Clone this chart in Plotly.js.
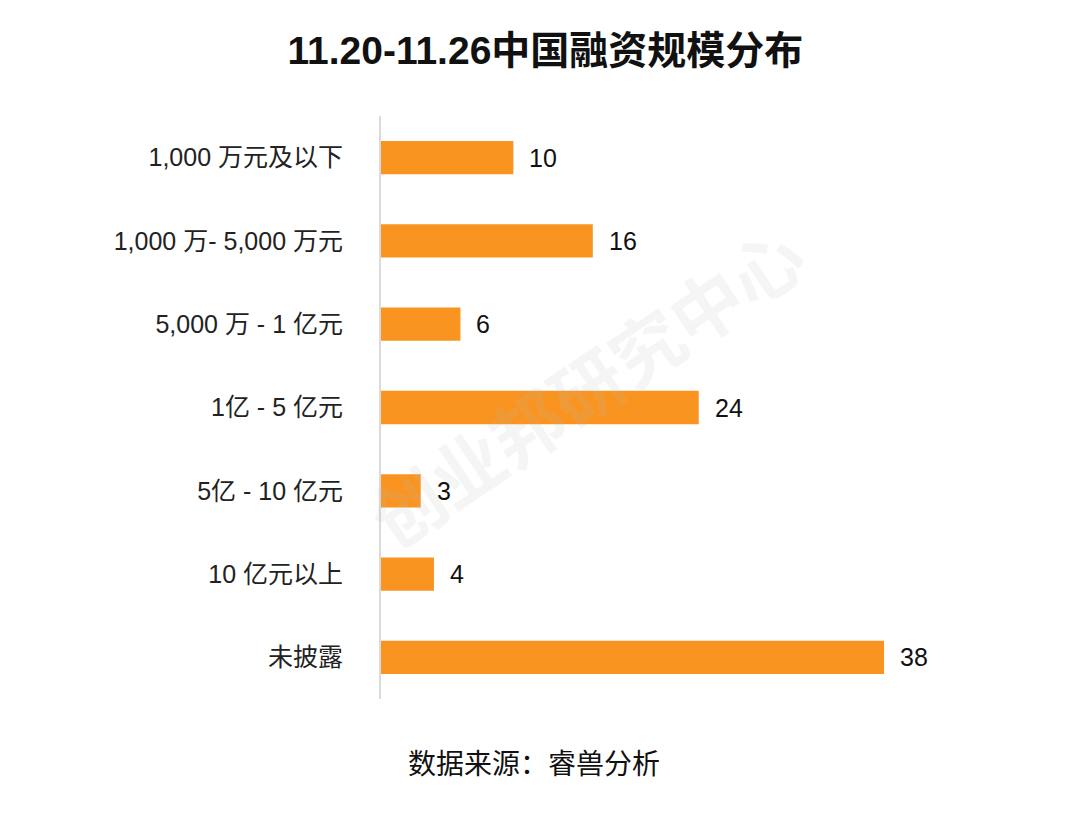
<!DOCTYPE html>
<html>
<head>
<meta charset="utf-8">
<script src="https://cdn.plot.ly/plotly-3.0.1.min.js"></script>
<style>html,body{margin:0;padding:0;background:#fff;}#chart{width:1080px;height:818px;}</style>
</head>
<body>
<div id="chart"></div>
<script>
const categories = ["1,000 万元及以下", "1,000 万- 5,000 万元", "5,000 万 - 1 亿元", "1亿 - 5 亿元", "5亿 - 10 亿元", "10 亿元以上", "未披露"];
const values = [10, 16, 6, 24, 3, 4, 38];
const titleText = "11.20-11.26中国融资规模分布";
const sourceText = "数据来源：睿兽分析";
const watermarkText = "创业邦研究中心";

const FONT = "Liberation Sans, Arial, Noto Sans CJK SC, sans-serif";

const trace = {
  type: "bar",
  orientation: "h",
  y: categories,
  x: values,
  marker: {color: "#F99420", line: {width: 0}},
  hoverinfo: "none"
};

const valueAnnotations = categories.map((c, i) => ({
  x: values[i], y: c, xref: "x", yref: "y",
  text: String(values[i]), showarrow: false,
  xanchor: "left", xshift: 14,
  font: {family: FONT, size: 25, color: "#111"}
}));

const layout = {
  width: 1080, height: 818,
  paper_bgcolor: "#fff", plot_bgcolor: "#fff",
  margin: {l: 381, r: 143, t: 116, b: 119},
  showlegend: false,
  bargap: 0.6,
  title: {
    text: "<b>" + titleText + "</b>",
    x: 0.505, xanchor: "center", y: 0.938, yanchor: "middle",
    font: {family: FONT, size: 39, color: "#111"}
  },
  xaxis: {range: [0, 42], visible: false, showgrid: false, zeroline: false, fixedrange: true},
  yaxis: {
    autorange: "reversed",
    showline: true, linecolor: "#dadada", linewidth: 2,
    ticks: "", showgrid: false, zeroline: false,
    ticklabelstandoff: 31,
    tickfont: {family: FONT, size: 25, color: "#222"}
  },
  annotations: valueAnnotations.concat([
    {
      xref: "paper", yref: "paper", x: 0.275, y: -0.112,
      xanchor: "center", yanchor: "middle",
      text: sourceText, showarrow: false,
      font: {family: FONT, size: 28, color: "#111"}
    },
    {
      xref: "paper", yref: "paper", x: 0.367, y: 0.54,
      xanchor: "center", yanchor: "middle", textangle: -34,
      text: "<b>" + watermarkText + "</b>", showarrow: false,
      font: {family: "Noto Sans CJK SC, sans-serif", size: 72, color: "rgba(190,190,190,0.15)"}
    }
  ])
};

Plotly.newPlot("chart", [trace], layout, {displayModeBar: false, staticPlot: true});
</script>
</body>
</html>
